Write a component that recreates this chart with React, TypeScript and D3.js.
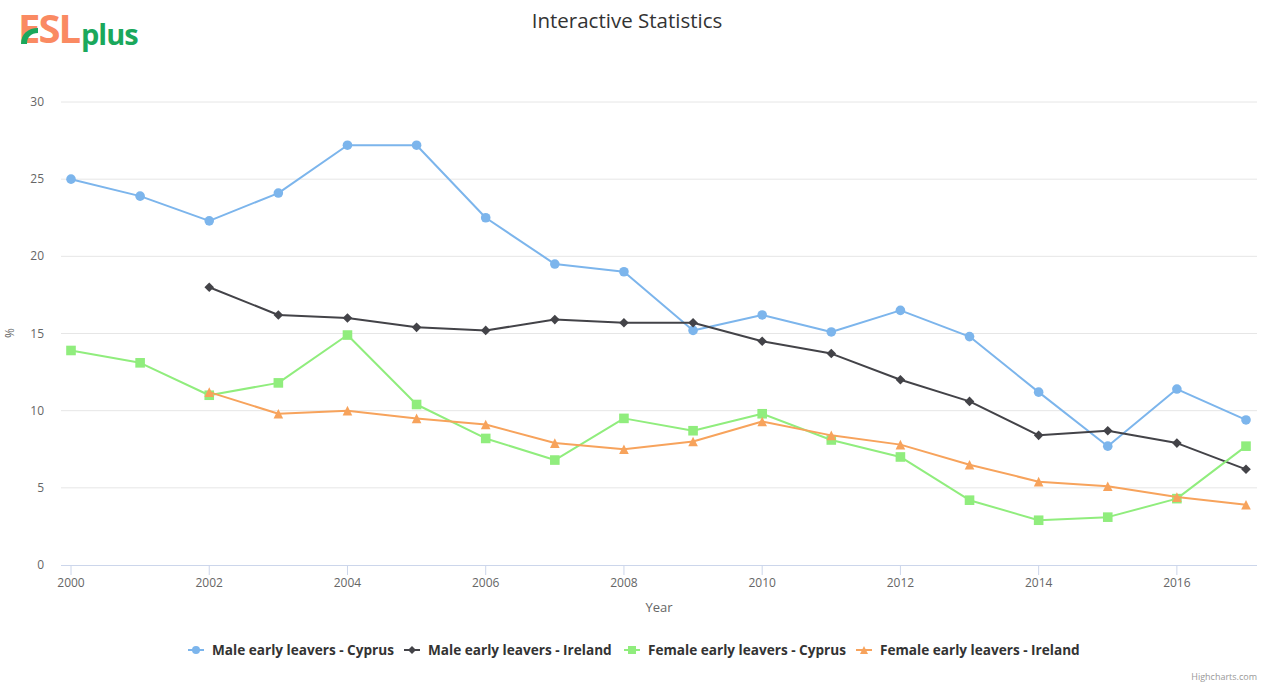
import React from "react";
import * as d3 from "d3";

const years = [2000, 2001, 2002, 2003, 2004, 2005, 2006, 2007, 2008, 2009, 2010, 2011, 2012, 2013, 2014, 2015, 2016, 2017];
const maleCyprus = [25.0, 23.9, 22.3, 24.1, 27.2, 27.2, 22.5, 19.5, 19.0, 15.2, 16.2, 15.1, 16.5, 14.8, 11.2, 7.7, 11.4, 9.4];
const maleIreland = [null, null, 18.0, 16.2, 16.0, 15.4, 15.2, 15.9, 15.7, 15.7, 14.5, 13.7, 12.0, 10.6, 8.4, 8.7, 7.9, 6.2];
const femaleCyprus = [13.9, 13.1, 11.0, 11.8, 14.9, 10.4, 8.2, 6.8, 9.5, 8.7, 9.8, 8.1, 7.0, 4.2, 2.9, 3.1, 4.3, 7.7];
const femaleIreland = [null, null, 11.2, 9.8, 10.0, 9.5, 9.1, 7.9, 7.5, 8.0, 9.3, 8.4, 7.8, 6.5, 5.4, 5.1, 4.4, 3.9];
const yTicks = [0, 5, 10, 15, 20, 25, 30];
const xTicks = [2000, 2002, 2004, 2006, 2008, 2010, 2012, 2014, 2016];

type Sym = "circle" | "diamond" | "square" | "triangle";
const series: { name: string; values: (number | null)[]; color: string; symbol: Sym }[] = [
  { name: "Male early leavers - Cyprus", values: maleCyprus, color: "#7cb5ec", symbol: "circle" },
  { name: "Male early leavers - Ireland", values: maleIreland, color: "#434348", symbol: "diamond" },
  { name: "Female early leavers - Cyprus", values: femaleCyprus, color: "#90ed7d", symbol: "square" },
  { name: "Female early leavers - Ireland", values: femaleIreland, color: "#f7a35c", symbol: "triangle" },
];

const W = 1261;
const H = 684;
const plotLeft = 61;
const plotRight = 1257;
const FONT = "'Open Sans', 'DejaVu Sans', sans-serif";

const x = d3.scaleLinear().domain([2000, 2017]).range([71, 1246]);
const y = d3.scaleLinear().domain([0, 30]).range([565, 102]);

function Marker({ sym, cx, cy, color, r = 4.8 }: { sym: Sym; cx: number; cy: number; color: string; r?: number }) {
  if (sym === "circle") return <circle cx={cx} cy={cy} r={r} fill={color} />;
  if (sym === "square") return <rect x={cx - r} y={cy - r} width={2 * r} height={2 * r} fill={color} />;
  if (sym === "diamond")
    return <path d={`M${cx},${cy - r}L${cx + r},${cy}L${cx},${cy + r}L${cx - r},${cy}Z`} fill={color} />;
  return <path d={`M${cx},${cy - r}L${cx + r},${cy + r}L${cx - r},${cy + r}Z`} fill={color} />;
}

const legendX = [196, 412, 632, 864];

export default function App() {
  const line = d3
    .line<[number, number | null]>()
    .defined((d) => d[1] !== null)
    .x((d) => x(d[0]))
    .y((d) => y(d[1] as number));

  return (
    <div style={{ position: "absolute", left: 0, top: 0 }}>
      <svg width={W} height={H} style={{ display: "block", fontFamily: FONT }}>
        <rect width={W} height={H} fill="#ffffff" />

        {/* logo */}
        <g>
          <text x={18} y={43} fontSize={40} fontWeight={700} fill="#fa8a62" fontFamily="'Open Sans', sans-serif" letterSpacing={-2}>
            ESL
          </text>
          <path d="M21,44 C21,34 28,28 38,28 L38,33 C31,33 27,37 27,44 Z" fill="#1aa85c" />
          <text x={81} y={45} fontSize={29} fontWeight={700} fill="#1aa85c" fontFamily="'Open Sans', sans-serif" letterSpacing={-1}>
            plus
          </text>
        </g>

        <text x={627} y={28} textAnchor="middle" fontSize={20.5} fill="#333333">
          Interactive Statistics
        </text>

        {/* grid and y labels */}
        {yTicks.map((t) => (
          <g key={t}>
            {t !== 0 && <line x1={plotLeft} x2={plotRight} y1={y(t)} y2={y(t)} stroke="#e6e6e6" strokeWidth={1} />}
            <text x={44} y={y(t) + 4} textAnchor="end" fontSize={12} fill="#666666">
              {t}
            </text>
          </g>
        ))}
        <text transform={`translate(14,333) rotate(-90)`} textAnchor="middle" fontSize={12} fill="#666666">
          %
        </text>

        {/* x axis */}
        <line x1={plotLeft} x2={plotRight} y1={565.5} y2={565.5} stroke="#ccd6eb" strokeWidth={1} />
        {xTicks.map((t) => (
          <g key={t}>
            <line x1={x(t)} x2={x(t)} y1={565} y2={575} stroke="#ccd6eb" strokeWidth={1} />
            <text x={x(t)} y={587} textAnchor="middle" fontSize={12} fill="#666666">
              {t}
            </text>
          </g>
        ))}
        <text x={659} y={612} textAnchor="middle" fontSize={13} fill="#666666">
          Year
        </text>

        {/* series */}
        {series.map((s) => {
          const pts = years.map((yr, i) => [yr, s.values[i]] as [number, number | null]);
          return (
            <g key={s.name}>
              <path d={line(pts) || ""} fill="none" stroke={s.color} strokeWidth={2} strokeLinejoin="round" strokeLinecap="round" />
              {pts
                .filter((p) => p[1] !== null)
                .map((p) => (
                  <Marker key={p[0]} sym={s.symbol} cx={x(p[0])} cy={y(p[1] as number)} color={s.color} />
                ))}
            </g>
          );
        })}

        {/* legend */}
        {series.map((s, i) => (
          <g key={s.name}>
            <line x1={legendX[i] - 8} x2={legendX[i] + 8} y1={650} y2={650} stroke={s.color} strokeWidth={2} />
            <Marker sym={s.symbol} cx={legendX[i]} cy={650} color={s.color} r={4} />
            <text x={legendX[i] + 16} y={655} fontSize={13.6} fontWeight={700} fill="#333333">
              {s.name}
            </text>
          </g>
        ))}

        <text x={1257} y={680} textAnchor="end" fontSize={9} fill="#999999">
          Highcharts.com
        </text>
      </svg>
    </div>
  );
}
